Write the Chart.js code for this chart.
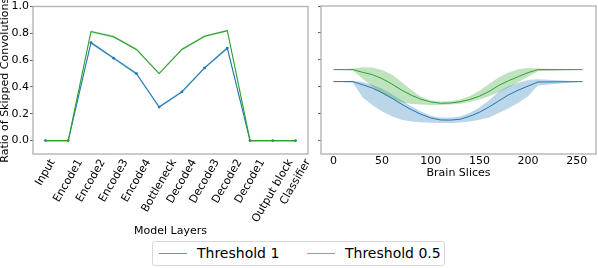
<!DOCTYPE html>
<html>
<head>
<meta charset="utf-8">
<script src="https://cdn.jsdelivr.net/npm/chart.js@4.4.0/dist/chart.umd.min.js"></script>
<style>
    body{margin:0;background:#fff;width:598px;height:268px;overflow:hidden;position:relative;font-family:"DejaVu Sans",sans-serif}
    #c1{position:absolute;left:0;top:0}
    #c2{position:absolute;left:315px;top:0}
    .legenda{position:absolute;left:152px;top:241px;width:293px;height:25px;border:1px solid #d8d8d8;border-radius:3px;box-sizing:border-box;background:#fff}
    .linha{position:absolute;top:11px;height:1.3px;width:28px}
    .texto{position:absolute;top:2px;font-size:14px;line-height:18px;color:#000;white-space:nowrap}
</style>
</head>
<body>
<canvas id="c1" width="315" height="240"></canvas>
<canvas id="c2" width="283" height="185"></canvas>
<div class="legenda">
    <div class="linha" style="left:6px;background:#5a9bd0"></div>
    <div class="texto" style="left:44px">Threshold 1</div>
    <div class="linha" style="left:154px;background:#6cbf6c"></div>
    <div class="texto" style="left:192px">Threshold 0.5</div>
</div>
<script>
//*************  Dados: camadas do modelo  ****************/
const layers = ["Input", "Encode1", "Encode2", "Encode3", "Encode4", "Bottleneck", "Decode4", "Decode3", "Decode2", "Decode1", "Output block", "Classifier"]
const layerT1 = [0, 0, 0.73, 0.615, 0.50, 0.25, 0.363, 0.542, 0.69, 0, 0, 0]
const layerT1Lo = [0, 0, 0.72, 0.605, 0.49, 0.242, 0.355, 0.533, 0.68, 0, 0, 0]
const layerT1Hi = [0, 0, 0.74, 0.625, 0.51, 0.258, 0.371, 0.551, 0.70, 0, 0, 0]
const layerT05 = [0, 0, 0.813, 0.774, 0.68, 0.50, 0.68, 0.778, 0.82, 0, 0, 0]
const layerT05Lo = [0, 0, 0.805, 0.765, 0.671, 0.492, 0.672, 0.77, 0.812, 0, 0, 0]
const layerT05Hi = [0, 0, 0.821, 0.783, 0.689, 0.508, 0.688, 0.786, 0.828, 0, 0, 0]

//*************  Dados: fatias do cérebro  ****************/
const slices = [0, 20, 30, 40, 50, 60, 70, 80, 90, 100, 110, 120, 130, 140, 150, 160, 170, 180, 190, 200, 210, 256]
const sliceT1 = [0.438, 0.438, 0.415, 0.39, 0.355, 0.315, 0.27, 0.23, 0.195, 0.168, 0.153, 0.152, 0.158, 0.18, 0.21, 0.25, 0.295, 0.34, 0.375, 0.405, 0.435, 0.438]
const sliceT1Hi = [0.438, 0.445, 0.435, 0.415, 0.385, 0.345, 0.30, 0.255, 0.215, 0.185, 0.172, 0.17, 0.178, 0.205, 0.245, 0.30, 0.365, 0.405, 0.43, 0.45, 0.455, 0.438]
const sliceT1Lo = [0.438, 0.43, 0.32, 0.265, 0.215, 0.18, 0.155, 0.142, 0.136, 0.133, 0.131, 0.131, 0.134, 0.142, 0.155, 0.172, 0.205, 0.24, 0.28, 0.33, 0.41, 0.438]
const sliceT05 = [0.527, 0.527, 0.507, 0.49, 0.46, 0.42, 0.375, 0.337, 0.307, 0.287, 0.277, 0.279, 0.288, 0.305, 0.33, 0.365, 0.41, 0.445, 0.475, 0.505, 0.527, 0.527]
const sliceT05Hi = [0.527, 0.535, 0.545, 0.542, 0.525, 0.49, 0.435, 0.375, 0.325, 0.298, 0.29, 0.292, 0.305, 0.33, 0.37, 0.42, 0.47, 0.505, 0.53, 0.54, 0.535, 0.527]
const sliceT05Lo = [0.527, 0.52, 0.46, 0.40, 0.35, 0.31, 0.285, 0.272, 0.267, 0.265, 0.265, 0.267, 0.273, 0.287, 0.305, 0.33, 0.36, 0.395, 0.435, 0.475, 0.515, 0.527]

const yTicks = [0, 0.2, 0.4, 0.6, 0.8, 1.0]
const sliceTicks = [0, 50, 100, 150, 200, 250]

const azul = "rgb(31,119,180)"
const verde = "rgb(44,160,44)"
const azulBanda = "rgba(31,119,180,0.3)"
const verdeBanda = "rgba(44,160,44,0.3)"
const fonte = '"DejaVu Sans", sans-serif'

Chart.defaults.font.family = fonte
Chart.defaults.color = "#000"

// junta x e y em pontos
function pontos(xs, ys){
    return ys.map((v, i) => ({x: xs[i], y: v}))
}
const idx = layers.map((_, i) => i)

// moldura cinzenta à volta da área do gráfico
const moldura = {
    id: "moldura",
    afterDraw(chart){
        const {ctx, chartArea: a} = chart
        ctx.save()
        ctx.strokeStyle = "#b0b0b0"
        ctx.lineWidth = 1.3
        ctx.strokeRect(a.left, a.top, a.right - a.left, a.bottom - a.top)
        ctx.restore()
    }
}

// rótulos rodados centrados no tick (como no matplotlib)
const rotulos = {
    id: "rotulos",
    afterDraw(chart){
        const esc = chart.scales.x
        const ctx = chart.ctx
        const ang = 60 * Math.PI / 180
        const h = 13
        ctx.save()
        ctx.font = "11px " + fonte
        ctx.fillStyle = "#000"
        ctx.textAlign = "center"
        ctx.textBaseline = "middle"
        layers.forEach((nome, i) => {
            const w = ctx.measureText(nome).width
            const cx = esc.getPixelForValue(i)
            const cy = esc.top + 3 + (w * Math.sin(ang) + h * Math.cos(ang)) / 2
            ctx.save()
            ctx.translate(cx, cy)
            ctx.rotate(-ang)
            ctx.fillText(nome, 0, 0)
            ctx.restore()
        })
        ctx.restore()
    }
}

function banda(dados, cor, fill){
    return {data: dados, borderWidth: 0, pointRadius: 0, backgroundColor: cor, fill: fill, tension: 0}
}

//*********** Gráfico das camadas **********/
new Chart(document.getElementById("c1"), {
    type: "line",
    data: {
        datasets: [
            {data: pontos(idx, layerT05), borderColor: verde, borderWidth: 1.1, pointRadius: 0, fill: false},
            {data: pontos(idx, layerT1), borderColor: azul, borderWidth: 1.1, pointRadius: 1.4, pointBackgroundColor: azul, pointBorderWidth: 0, fill: false},
            banda(pontos(idx, layerT05Hi), verdeBanda, "+1"),
            banda(pontos(idx, layerT05Lo), "transparent", false),
            banda(pontos(idx, layerT1Hi), azulBanda, "+1"),
            banda(pontos(idx, layerT1Lo), "transparent", false)
        ]
    },
    options: {
        responsive: false,
        animation: false,
        layout: {padding: {left: 0, right: 7, top: 6, bottom: 0}},
        plugins: {legend: {display: false}, tooltip: {enabled: false}},
        scales: {
            x: {
                type: "linear", min: -0.55, max: 11.55,
                afterBuildTicks: s => { s.ticks = idx.map(v => ({value: v})) },
                afterFit: s => { s.height = 86 },
                ticks: {display: false},
                grid: {display: false, drawTicks: false},
                border: {display: false},
                title: {display: true, text: "Model Layers", font: {size: 11, lineHeight: 1}, padding: {top: 0, bottom: 3.5}}
            },
            y: {
                min: -0.1, max: 1.0,
                afterBuildTicks: s => { s.ticks = yTicks.map(v => ({value: v})) },
                afterFit: s => { s.width = 33 },
                ticks: {font: {size: 11, lineHeight: 1}, padding: 1, callback: v => v.toFixed(1)},
                grid: {drawOnChartArea: false, drawTicks: true, tickLength: 3, color: "#666"},
                border: {display: false},
                title: {display: true, text: "Ratio of Skipped Convolutions", font: {size: 11, lineHeight: 1}, padding: {top: 0, bottom: 0}}
            }
        }
    },
    plugins: [moldura, rotulos]
})

//*********** Gráfico das fatias **********/
new Chart(document.getElementById("c2"), {
    type: "line",
    data: {
        datasets: [
            {data: pontos(slices, sliceT05), borderColor: verde, borderWidth: 1, pointRadius: 0, fill: false},
            {data: pontos(slices, sliceT1), borderColor: azul, borderWidth: 1, pointRadius: 0, fill: false},
            banda(pontos(slices, sliceT05Hi), verdeBanda, "+1"),
            banda(pontos(slices, sliceT05Lo), "transparent", false),
            banda(pontos(slices, sliceT1Hi), azulBanda, "+1"),
            banda(pontos(slices, sliceT1Lo), "transparent", false)
        ]
    },
    options: {
        responsive: false,
        animation: false,
        layout: {padding: {left: 0, right: 2, top: 6, bottom: 0}},
        plugins: {legend: {display: false}, tooltip: {enabled: false}},
        scales: {
            x: {
                type: "linear", min: -12.8, max: 269.8,
                afterBuildTicks: s => { s.ticks = sliceTicks.map(v => ({value: v})) },
                afterFit: s => { s.height = 31 },
                ticks: {font: {size: 11, lineHeight: 1.2}, padding: 1, maxRotation: 0, callback: v => String(v)},
                grid: {display: false, drawTicks: false},
                border: {display: false},
                title: {display: true, text: "Brain Slices", font: {size: 11, lineHeight: 1}, padding: {top: 0, bottom: 6.5}}
            },
            y: {
                min: -0.1, max: 1.0,
                afterBuildTicks: s => { s.ticks = yTicks.map(v => ({value: v})) },
                afterFit: s => { s.width = 6 },
                ticks: {display: false},
                grid: {drawOnChartArea: false, drawTicks: true, tickLength: 3, color: "#666"},
                border: {display: false}
            }
        }
    },
    plugins: [moldura]
})
</script>
</body>
</html>
